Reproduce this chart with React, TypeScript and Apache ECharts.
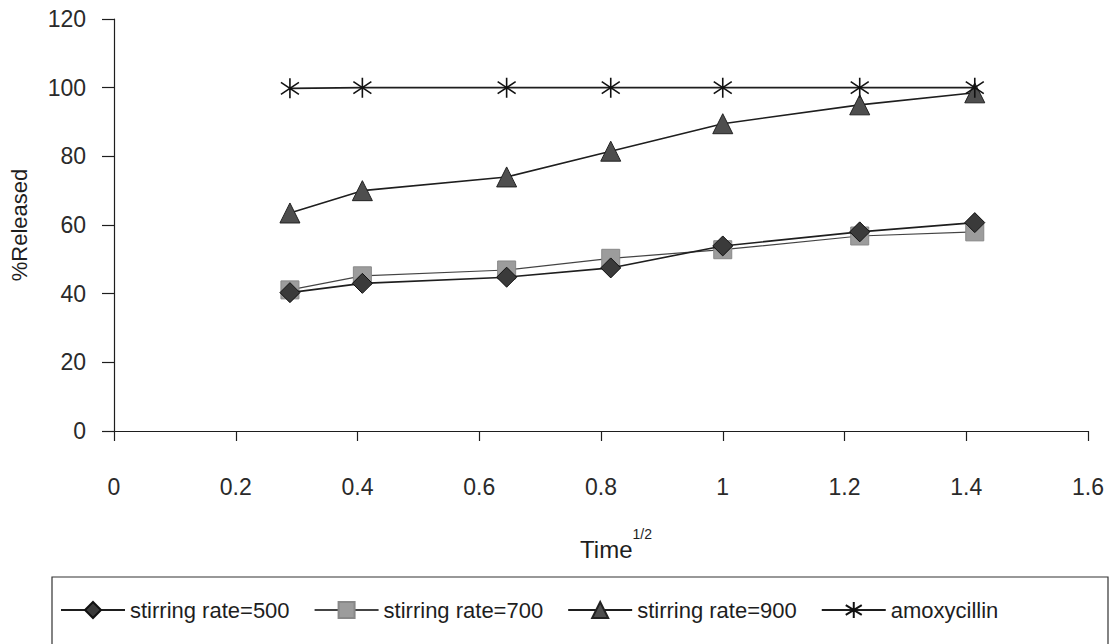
import React, { useEffect, useRef } from "react";
import * as echarts from "echarts";

// Square root of sampling time (h^1/2)
const timeRoot = [0.289, 0.408, 0.645, 0.816, 1, 1.225, 1.414];

// % released for each stirring rate and for pure amoxycillin
const rate500 = [40.3, 43, 44.8, 47.5, 53.9, 58, 60.7];
const rate700 = [41.1, 45.2, 46.9, 50.3, 52.8, 56.8, 58];
const rate900 = [63.5, 70, 74, 81.5, 89.5, 95, 98.5];
const amoxycillin = [99.8, 100, 100, 100, 100, 100, 100];

const seriesNames = [
  "stirring rate=500",
  "stirring rate=700",
  "stirring rate=900",
  "amoxycillin",
];

const xTicks = { min: 0, max: 1.6, interval: 0.2 };
const yTicks = { min: 0, max: 120, interval: 20 };

const FONT = "'Liberation Sans', Arial, sans-serif";
const INK = "#1e1e1e";

const asteriskPath = "path://M10,0L10,20M1,4L19,16M1,16L19,4";

const pairs = (ys: number[]) => timeRoot.map((x, i) => [x, ys[i]]);

export default function App() {
  const ref = useRef<HTMLDivElement>(null);

  useEffect(() => {
    if (!ref.current) return;
    const chart = echarts.init(ref.current, undefined, { renderer: "svg" });

    const lineBase = {
      type: "line" as const,
      showSymbol: true,
      lineStyle: { color: INK, width: 1.6 },
      emphasis: { disabled: true },
    };

    chart.setOption({
      animation: false,
      backgroundColor: "#ffffff",
      textStyle: { fontFamily: FONT },
      grid: { left: 108, right: 32, top: 19, bottom: 213, containLabel: false },
      xAxis: {
        type: "value",
        min: xTicks.min,
        max: xTicks.max,
        interval: xTicks.interval,
        splitLine: { show: false },
        axisLine: { lineStyle: { color: INK, width: 1.2 } },
        axisTick: { show: true, length: 10, lineStyle: { color: INK, width: 1.2 } },
        axisLabel: {
          margin: 44,
          fontSize: 23,
          color: "#2a2a2a",
          fontFamily: FONT,
        },
        name: "{t|Time}{s|1/2}",
        nameLocation: "middle",
        nameGap: 96,
        nameTextStyle: {
          padding: [0, 0, 0, 30],
          rich: {
            t: { fontSize: 24, fontFamily: FONT, color: INK, lineHeight: 34, verticalAlign: "bottom" },
            s: {
              fontSize: 14,
              fontFamily: FONT,
              color: INK,
              verticalAlign: "top",
              lineHeight: 22,
            },
          },
        },
      },
      yAxis: {
        type: "value",
        min: yTicks.min,
        max: yTicks.max,
        interval: yTicks.interval,
        splitLine: { show: false },
        axisLine: { show: true, lineStyle: { color: INK, width: 1.2 } },
        axisTick: { show: true, length: 12, lineStyle: { color: INK, width: 1.2 } },
        axisLabel: {
          margin: 28,
          fontSize: 23,
          color: "#2a2a2a",
          fontFamily: FONT,
        },
        name: "%Released",
        nameLocation: "middle",
        nameRotate: 90,
        nameGap: 84,
        nameTextStyle: { fontSize: 22, color: INK, fontFamily: FONT },
      },
      legend: {
        left: 55,
        top: 594,
        itemWidth: 64,
        itemHeight: 20,
        itemGap: 24,
        textStyle: { fontSize: 22, color: INK, fontFamily: FONT },
        data: seriesNames,
      },
      graphic: [
        {
          type: "rect",
          shape: { x: 52, y: 577, width: 1056, height: 80 },
          style: { fill: "none", stroke: "#333", lineWidth: 1.2 },
          silent: true,
          z: -1,
        },
      ],
      series: [
        {
          ...lineBase,
          name: seriesNames[0],
          data: pairs(rate500),
          symbol: "diamond",
          symbolSize: [20, 20],
          itemStyle: { color: "#3a3a3a", borderColor: "#111", borderWidth: 1 },
          z: 4,
        },
        {
          ...lineBase,
          name: seriesNames[1],
          data: pairs(rate700),
          symbol: "rect",
          symbolSize: [18, 18],
          lineStyle: { color: "#444", width: 1.2 },
          itemStyle: { color: "#9c9c9c", borderColor: "#888", borderWidth: 1 },
          z: 3,
        },
        {
          ...lineBase,
          name: seriesNames[2],
          data: pairs(rate900),
          symbol: "triangle",
          symbolSize: [20, 20],
          itemStyle: { color: "#4e4e4e", borderColor: "#222", borderWidth: 1 },
          z: 2,
        },
        {
          ...lineBase,
          name: seriesNames[3],
          data: pairs(amoxycillin),
          symbol: asteriskPath,
          symbolSize: [20, 20],
          symbolKeepAspect: true,
          itemStyle: { color: "none", borderColor: "#111", borderWidth: 1.6 },
          z: 5,
        },
      ],
    });

    return () => chart.dispose();
  }, []);

  return (
    <div
      ref={ref}
      style={{
        position: "fixed",
        left: 0,
        top: 0,
        width: 1120,
        height: 644,
        background: "#fff",
      }}
    />
  );
}
